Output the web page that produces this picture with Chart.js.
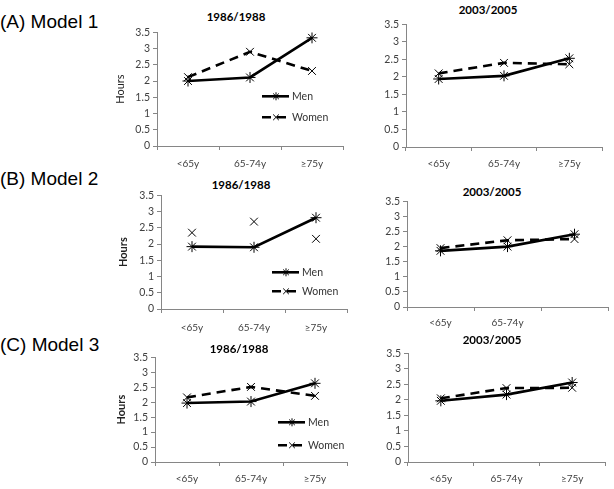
<!DOCTYPE html>
<html>
<head>
<meta charset="utf-8">
<script src="https://cdn.jsdelivr.net/npm/chart.js@4.4.1/dist/chart.umd.min.js"></script>
<style>
  body { margin: 0; background: #fff; }
  #page { position: relative; width: 614px; height: 489px; overflow: hidden; }
  canvas { position: absolute; }
  .model { position: absolute; left: 9px; font: 19px "Liberation Sans", Arial, sans-serif; color: #000; line-height: 22px; white-space: nowrap; }
  .wave { position: absolute; width: 100px; margin-left: -50px; text-align: center; font: bold 11.5px Lato, sans-serif; color: #000; line-height: 14px; }
</style>
</head>
<body>
<div id="page"></div>
<script>
// values (hours)
const ageGroups = ["<65y", "65-74y", "≥75y"];
const ageGroupsCut = ["<65y", "65-74y", ""];
const hourTicks = [0, 0.5, 1, 1.5, 2, 2.5, 3, 3.5];
const modelLabels = ["(A) Model 1", "(B) Model 2", "(C) Model 3"];
const waveTitles = ["1986/1988", "2003/2005"];
const seriesNames = ["Men", "Women"];

const m1Men86 = [2.0, 2.11, 3.33];
const m1Women86 = [2.12, 2.9, 2.31];
const m1Men03 = [1.94, 2.03, 2.53];
const m1Women03 = [2.1, 2.4, 2.36];

const m2Men86 = [1.92, 1.9, 2.81];
const m2Women86 = [2.35, 2.69, 2.16];
const m2Men03 = [1.86, 2.0, 2.41];
const m2Women03 = [1.95, 2.21, 2.25];

const m3Men86 = [1.97, 2.02, 2.63];
const m3Women86 = [2.16, 2.51, 2.21];
const m3Men03 = [1.97, 2.17, 2.56];
const m3Women03 = [2.05, 2.38, 2.39];

const page = document.getElementById("page");
const axisGrey = "#868686";
const labelGrey = "#404040";

// little Excel style key drawn inside the plot
const seriesKey = {
  id: "seriesKey",
  afterDatasetsDraw(chart, args, opts) {
    if (!opts.show) return;
    let ctx = chart.ctx;
    let area = chart.chartArea;
    chart.data.datasets.forEach(function (ds, i) {
      let x = area.left + opts.x;
      let y = area.top + opts.rows[i];
      ctx.save();
      ctx.strokeStyle = "#000";
      ctx.lineWidth = 2.6;
      ctx.setLineDash(ds.borderDash || []);
      ctx.beginPath();
      ctx.moveTo(x, y);
      ctx.lineTo(x + 27, y);
      ctx.stroke();
      ctx.setLineDash([]);
      ctx.lineWidth = 1;
      Chart.helpers.drawPoint(ctx, { pointStyle: ds.pointStyle, radius: 4, borderWidth: 1, rotation: 0 }, x + 14, y);
      ctx.fillStyle = "#333";
      ctx.font = "10.5px Lato";
      ctx.textBaseline = "middle";
      ctx.fillText(ds.label, x + 30, y);
      ctx.restore();
    });
  },
};

function addText(cls, text, left, top) {
  let d = document.createElement("div");
  d.className = cls;
  d.textContent = text;
  d.style.left = left + "px";
  d.style.top = top + "px";
  page.appendChild(d);
}

function makePanel(p) {
  let padTop = 8;
  let padRight = 8;
  let xAxisH = 28;
  let canvas = document.createElement("canvas");
  let w = p.right - p.canvasLeft + padRight;
  let h = p.bottom - p.top + padTop + xAxisH;
  canvas.width = w;
  canvas.height = h;
  canvas.style.left = p.canvasLeft + "px";
  canvas.style.top = p.top - padTop + "px";
  page.appendChild(canvas);

  const data = {
    labels: p.labels,
    datasets: [
      {
        label: seriesNames[0],
        data: p.men,
        borderColor: "#000",
        borderWidth: 2.6,
        pointStyle: "star",
        pointRadius: 5.5,
        pointBorderWidth: 1,
        pointBorderColor: "#000",
        pointBackgroundColor: "#000",
        tension: 0,
      },
      {
        label: seriesNames[1],
        data: p.women,
        borderColor: "#000",
        borderWidth: 2.6,
        borderDash: [9, 6],
        showLine: p.womenLine,
        pointStyle: "crossRot",
        pointRadius: 5.5,
        pointBorderWidth: 1,
        pointBorderColor: "#000",
        pointBackgroundColor: "#000",
        tension: 0,
      },
    ],
  };

  const config = {
    type: "line",
    data: data,
    plugins: [seriesKey],
    options: {
      responsive: false,
      animation: false,
      devicePixelRatio: 1,
      layout: { padding: { top: padTop, right: padRight, left: 0, bottom: 0 } },
      plugins: {
        legend: { display: false },
        tooltip: { enabled: false },
        seriesKey: p.key || { show: false },
      },
      scales: {
        x: {
          offset: true,
          grid: { offset: true, drawOnChartArea: false, tickLength: 4, color: axisGrey },
          border: { color: axisGrey, width: 1 },
          ticks: {
            padding: p.labelPad,
            color: labelGrey,
            maxRotation: 0,
            autoSkip: false,
            font: { family: "Lato", size: 10 },
          },
          afterFit: function (s) {
            s.height = xAxisH;
          },
        },
        y: {
          min: 0,
          max: 3.5,
          afterBuildTicks: function (s) {
            s.ticks = hourTicks.map((v) => ({ value: v }));
          },
          grid: { drawOnChartArea: false, tickLength: 4, color: axisGrey },
          border: { color: axisGrey, width: 1 },
          ticks: {
            padding: 3,
            autoSkip: false,
            color: labelGrey,
            font: { family: "Lato", size: 10.5 },
            callback: function (v) {
              return String(v);
            },
          },
          title: {
            display: !!p.yTitle,
            text: "Hours",
            color: "#222",
            padding: { top: 4, bottom: 0 },
            font: { family: "Lato", size: 11, weight: p.yTitleBold ? "bold" : "normal" },
          },
          afterFit: function (s) {
            s.width = p.axisX - p.canvasLeft;
          },
        },
      },
    },
  };
  new Chart(canvas, config);
}

// (A)
addText("model", modelLabels[0], 0, 11);
addText("wave", waveTitles[0], 236, 10);
addText("wave", waveTitles[1], 488, 3);
makePanel({
  canvasLeft: 110, axisX: 157, right: 343, top: 31, bottom: 146, labelPad: 8,
  labels: ageGroups, men: m1Men86, women: m1Women86, womenLine: true,
  yTitle: true, yTitleBold: false,
  key: { show: true, x: 105, rows: [64, 85] },
});
makePanel({
  canvasLeft: 378, axisX: 406, right: 602, top: 23, bottom: 147, labelPad: 7,
  labels: ageGroups, men: m1Men03, women: m1Women03, womenLine: true,
});

// (B)
addText("model", modelLabels[1], 0, 168);
addText("wave", waveTitles[0], 241, 178);
addText("wave", waveTitles[1], 492, 185);
makePanel({
  canvasLeft: 113, axisX: 161, right: 347, top: 194, bottom: 309, labelPad: 9,
  labels: ageGroups, men: m2Men86, women: m2Women86, womenLine: false,
  yTitle: true, yTitleBold: true,
  key: { show: true, x: 111, rows: [77, 96] },
});
makePanel({
  canvasLeft: 379, axisX: 407, right: 608, top: 200, bottom: 307, labelPad: 6,
  labels: ageGroupsCut, men: m2Men03, women: m2Women03, womenLine: true,
});

// (C)
addText("model", modelLabels[2], 0, 334);
addText("wave", waveTitles[0], 239, 342);
addText("wave", waveTitles[1], 492, 333);
makePanel({
  canvasLeft: 111, axisX: 155, right: 347, top: 356, bottom: 462, labelPad: 7,
  labels: ageGroups, men: m3Men86, women: m3Women86, womenLine: true,
  yTitle: true, yTitleBold: true,
  key: { show: true, x: 123, rows: [65, 88] },
});
makePanel({
  canvasLeft: 380, axisX: 408, right: 605, top: 352, bottom: 462, labelPad: 7,
  labels: ageGroups, men: m3Men03, women: m3Women03, womenLine: true,
});
</script>
</body>
</html>
